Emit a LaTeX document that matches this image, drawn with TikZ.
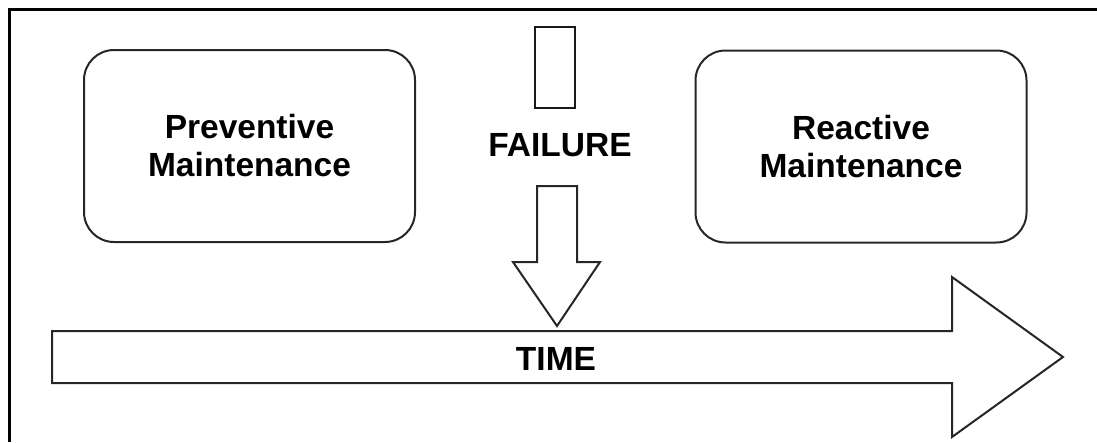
\documentclass[tikz,border=0pt]{standalone}
\usepackage{fontspec}
\setmainfont{Liberation Sans}
\begin{document}
\begin{tikzpicture}[x=1pt,y=-1pt,
  label text/.style={font=\bfseries\fontsize{33.5}{38}\selectfont, text=black, align=center, inner sep=0pt},
  roundbox/.style={draw=black!85, line width=2pt, rounded corners=30pt, minimum width=331pt, minimum height=192pt, label text},
  shape line/.style={draw=black!85, line width=2pt, fill=white, line join=miter}]
  \useasboundingbox (0,0) rectangle (1097,442);
  % outer frame (top and left edges inside the page)
  \draw[line width=3pt, black] (9,442) -- (9,9) -- (1097,9);
  % the two maintenance boxes
  \node[roundbox] (prev) at (249.5,146) {Preventive\\Maintenance};
  \node[roundbox] (react) at (861,146.5) {Reactive\\Maintenance};
  % failure marker and label
  \node[draw=black!90, line width=2.7pt, minimum width=40pt, minimum height=81pt, inner sep=0pt] (mark) at (555,67.5) {};
  \node[label text] (fail) at (560,145) {FAILURE};
  % time arrow
  \coordinate (tl) at (52,331);
  \draw[shape line] (tl) -- (952,331) -- (952,277) -- (1063,357) -- (952,437) -- (952,383) -- (52,383) -- cycle;
  \node[label text] (time) at (556,358.5) {TIME};
  % downward arrow pointing at the time axis
  \coordinate (tip) at (557,326);
  \draw[shape line] (537,186) -- (577,186) -- (577,262) -- (600,262) -- (tip) -- (513,262) -- (537,262) -- cycle;
\end{tikzpicture}
\end{document}
